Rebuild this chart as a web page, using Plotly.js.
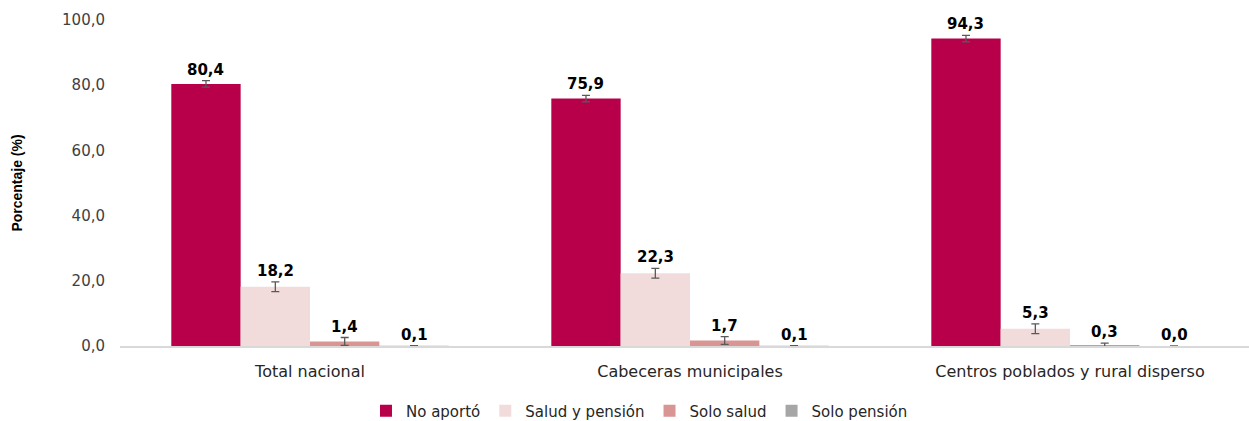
<!DOCTYPE html>
<html><head><meta charset="utf-8">
<script src="https://cdn.plot.ly/plotly-3.0.1.min.js"></script>
<style>html,body{margin:0;padding:0;background:#fff}#chart{width:1249px;height:421px}</style>
</head><body><div id="chart"></div>
<script>
const categories = ['Total nacional', 'Cabeceras municipales', 'Centros poblados y rural disperso'];
const seriesNames = ['No aportó', 'Salud y pensión', 'Solo salud', 'Solo pensión'];
const noAporto = [80.4, 75.9, 94.3];
const saludPension = [18.2, 22.3, 5.3];
const soloSalud = [1.4, 1.7, 0.3];
const soloPension = [0.1, 0.1, 0.0];
const errNoAporto = [1.0, 1.0, 1.0];
const errSaludPension = [1.5, 1.5, 1.5];
const errSoloSalud = [1.2, 1.2, 0.6];
const errSoloPension = [0, 0, 0];
const colors = ['#B8004A', '#F2DCDB', '#D99594', '#A6A6A6'];

const values = [noAporto, saludPension, soloSalud, soloPension];
const errors = [errNoAporto, errSaludPension, errSoloSalud, errSoloPension];
const bargap = 0.27;
const nS = values.length;
const barW = (1 - bargap) / nS;

const traces = values.map((v, s) => ({
  type: 'bar', name: seriesNames[s], x: categories, y: v,
  marker: {color: colors[s]},
  error_y: {type: 'data', array: errors[s], visible: true, color: '#595959', thickness: 1.3, width: 4},
  hoverinfo: 'y'
}));

const annotations = [];
values.forEach((v, s) => {
  v.forEach((val, i) => {
    annotations.push({
      x: i - (1 - bargap) / 2 + barW * (s + 0.5), y: val + errors[s][i],
      xref: 'x', yref: 'y', text: val.toFixed(1).replace('.', ','),
      showarrow: false, yanchor: 'bottom', yshift: 0,
      font: {family: 'DejaVu Sans', size: 15, color: '#000', weight: 'bold'}
    });
  });
});

const layout = {
  width: 1249, height: 421,
  margin: {l: 120, r: 0, t: 20, b: 75, autoexpand: false},
  barmode: 'group', bargap: bargap, bargroupgap: 0,
  separators: ',.',
  showlegend: true,
  legend: {orientation: 'h', x: 0.512, xref: 'container', xanchor: 'center', y: 0.024, yref: 'container', yanchor: 'middle',
    font: {family: 'DejaVu Sans', size: 15, color: '#262626'}, itemwidth: 30, traceorder: 'normal'},
  xaxis: {type: 'category', range: [-0.5, 2.471], showgrid: false, showline: true,
    linecolor: '#D9D9D9', linewidth: 1.5, ticks: '', ticklabelstandoff: 10,
    tickfont: {family: 'DejaVu Sans', size: 16, color: '#262626'}},
  yaxis: {range: [0, 100], dtick: 20, tickformat: '.1f', showgrid: false, zeroline: false,
    showline: false, ticks: '', ticklabelstandoff: 14,
    tickfont: {family: 'DejaVu Sans', size: 15, color: '#404040'},
    title: {text: 'Porcentaje (%)', standoff: 36, font: {family: 'Liberation Sans Narrow, Liberation Sans', size: 14, color: '#000', weight: 'bold'}}},
  annotations: annotations,
  plot_bgcolor: '#fff', paper_bgcolor: '#fff'
};
Plotly.newPlot('chart', traces, layout, {displayModeBar: false, staticPlot: true});
</script></body></html>
